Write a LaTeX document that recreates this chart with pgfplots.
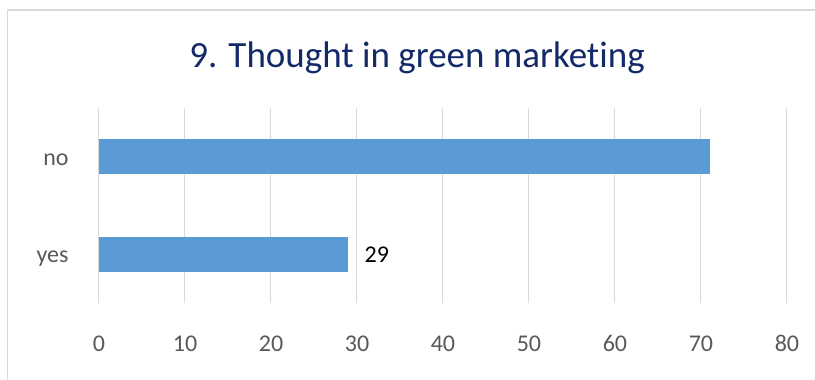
\documentclass[border=0pt]{standalone}
\usepackage{pgfplots}
\pgfplotsset{compat=1.18}
\usepackage{fontspec}
\setmainfont{Carlito}[Ligatures=NoCommon]

\definecolor{barblue}{HTML}{5B9BD5}
\definecolor{gridgray}{HTML}{D9D9D9}
\definecolor{framegray}{HTML}{D9D9D9}
\definecolor{labelgray}{HTML}{595959}
\definecolor{titleblue}{HTML}{142A68}

\begin{document}
\begin{tikzpicture}[x=1pt,y=1pt]
  \useasboundingbox (0,0) rectangle (815,-380);
  % chart frame (top and left edges)
  \draw[framegray, line width=1.5pt] (7.5,-380) -- (7.5,-10) -- (815,-10);
  % chart title
  \node[anchor=base, text=titleblue, font=\fontsize{37}{44}\selectfont, inner sep=0pt]
    at (417,-67) {9. Thought in green marketing};
  \begin{axis}[
    at={(99pt,-303pt)}, anchor=south west,
    scale only axis,
    width=688pt, height=195pt,
    xbar, bar width=35pt, bar shift=0pt,
    xmin=0, xmax=80,
    ymin=-0.5, ymax=1.5,
    xtick={0,10,...,80},
    ytick={0,1},
    yticklabels={yes,no},
    xmajorgrids,
    grid style={gridgray, line width=1pt},
    axis line style={draw=none},
    tick style={draw=none},
    tick label style={font=\fontsize{24}{29}\selectfont, text=labelgray},
    xticklabel style={anchor=base, inner sep=0pt, yshift=-48pt},
    yticklabel style={anchor=base east, inner sep=0pt, xshift=-26pt, yshift=-8.5pt},
    /pgf/number format/assume math mode=true,
    clip=false,
  ]
    % yes: labelled bar
    \addplot[draw=none, fill=barblue,
      nodes near coords,
      nodes near coords style={anchor=west, inner sep=0pt, xshift=16pt,
        font=\fontsize{24}{29}\selectfont, text=black}]
      coordinates {(29,0)};
    % no
    \addplot[draw=none, fill=barblue] coordinates {(71,1)};
  \end{axis}
\end{tikzpicture}
\end{document}
